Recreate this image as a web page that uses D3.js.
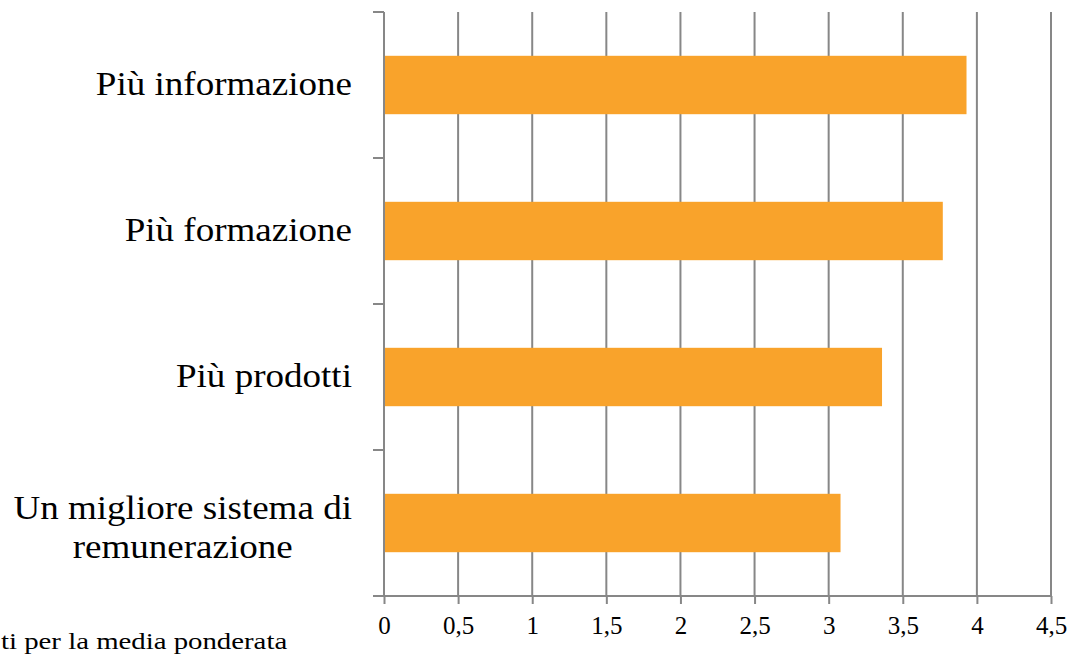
<!DOCTYPE html>
<html>
<head>
<meta charset="utf-8">
<script src="https://cdn.jsdelivr.net/npm/d3@7"></script>
<style>
  html, body { margin: 0; padding: 0; background: #fff; }
  svg { display: block; }
  text { font-family: "Liberation Serif", "Times New Roman", serif; fill: #000; }
</style>
</head>
<body>
<svg id="chart" width="1068" height="654"></svg>
<script>
// Categories (top to bottom) and their weighted-mean scores
const categories = [
  ["Più informazione"],
  ["Più formazione"],
  ["Più prodotti"],
  ["Un migliore sistema di", "remunerazione"]
];
const values = [3.93, 3.77, 3.36, 3.08];
const xTicks = [0, 0.5, 1, 1.5, 2, 2.5, 3, 3.5, 4, 4.5];
const tickLabels = ["0", "0,5", "1", "1,5", "2", "2,5", "3", "3,5", "4", "4,5"];
const footnote = "ti per la media ponderata";

const svg = d3.select("#chart");
const plotLeft = 384, plotRight = 1051, plotTop = 12, plotBottom = 596;

const x = d3.scaleLinear().domain([0, 4.5]).range([plotLeft, plotRight]);
const y = d3.scaleBand()
  .domain(d3.range(categories.length))
  .range([plotTop, plotBottom])
  .paddingInner(0.6)
  .paddingOuter(0.3);

const grey = "#878787";

// vertical gridlines
svg.append("g").selectAll("line")
  .data(xTicks.slice(1))
  .join("line")
  .attr("x1", d => x(d)).attr("x2", d => x(d))
  .attr("y1", plotTop).attr("y2", plotBottom)
  .attr("stroke", grey).attr("stroke-width", 2);

// bars
svg.append("g").selectAll("rect")
  .data(values)
  .join("rect")
  .attr("x", x(0))
  .attr("y", (d, i) => y(i))
  .attr("width", d => x(d) - x(0))
  .attr("height", y.bandwidth())
  .attr("fill", "#F9A32B");

// x axis
const xAxis = d3.axisBottom(x)
  .tickValues(xTicks)
  .tickFormat((d, i) => tickLabels[i])
  .tickSize(8)
  .tickPadding(12);
const gx = svg.append("g")
  .attr("transform", `translate(0,${plotBottom})`)
  .call(xAxis);
gx.select(".domain").attr("stroke", grey).attr("stroke-width", 2)
  .attr("d", `M${plotLeft - 11},0H${plotRight}`);
gx.selectAll(".tick line").attr("stroke", grey).attr("stroke-width", 2);
gx.selectAll(".tick text")
  .attr("font-family", "Liberation Serif, serif")
  .attr("font-size", 25)
  .attr("fill", "#000");

// y axis: category boundaries as ticks
const yBounds = d3.range(categories.length + 1).map(i => plotTop + i * y.step());
const gy = svg.append("g");
gy.append("line")
  .attr("x1", plotLeft).attr("x2", plotLeft)
  .attr("y1", plotTop).attr("y2", plotBottom)
  .attr("stroke", grey).attr("stroke-width", 2);
gy.selectAll("line.tk")
  .data(yBounds)
  .join("line")
  .attr("class", "tk")
  .attr("x1", plotLeft - 11).attr("x2", plotLeft)
  .attr("y1", d => d).attr("y2", d => d)
  .attr("stroke", grey).attr("stroke-width", 2);

// category labels: right-aligned block, lines centred within it, slightly wide type
const lineH = 38.5;
const labelStretch = 1.09;
const labelRight = plotLeft - 32;
const labels = svg.append("g").selectAll("g")
  .data(categories)
  .join("g")
  .attr("transform", (d, i) =>
    `translate(${labelRight},${y(i) + y.bandwidth() / 2}) scale(${labelStretch},1)`);
labels.append("text")
  .attr("text-anchor", "middle")
  .attr("font-size", 34)
  .each(function(lines) {
    const t = d3.select(this);
    // wrapped labels sit a little lower than the band centre
    const y0 = -(lines.length - 1) * lineH / 2 + (lines.length - 1) * 6;
    lines.forEach((ln, k) => {
      t.append("tspan")
        .attr("x", 0)
        .attr("y", y0 + k * lineH)
        .attr("dy", "0.28em")
        .text(ln);
    });
    const w = this.getBBox().width;
    t.selectAll("tspan").attr("x", -w / 2);
  });

// footnote at bottom left
svg.append("text")
  .attr("transform", "translate(1,649) scale(1.2,1)")
  .attr("font-size", 24)
  .text(footnote);
</script>
</body>
</html>
